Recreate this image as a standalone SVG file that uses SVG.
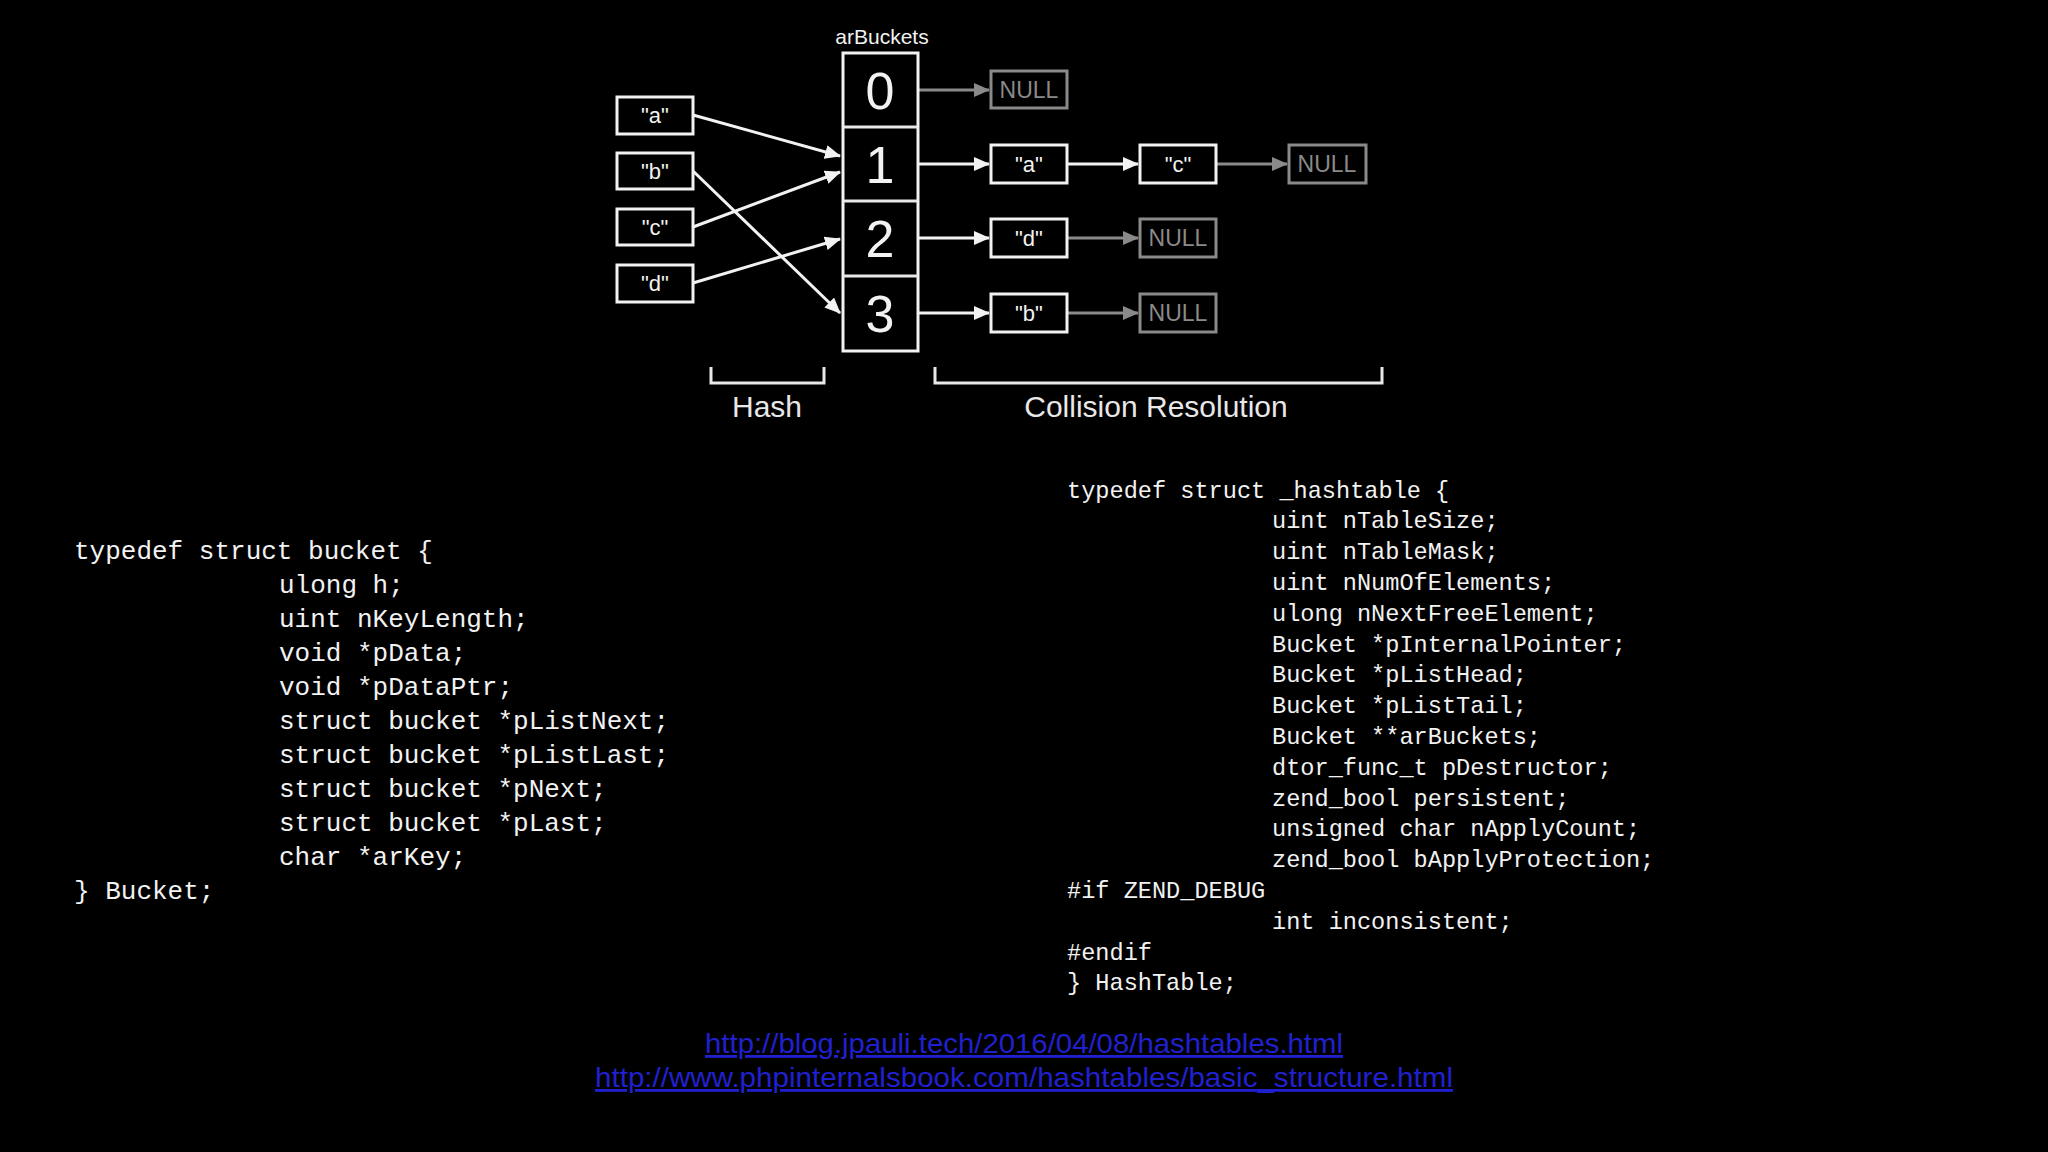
<svg xmlns="http://www.w3.org/2000/svg" width="2048" height="1152" viewBox="0 0 2048 1152">
<defs>
<marker id="aw" markerWidth="16" markerHeight="14" refX="15" refY="7" orient="auto" markerUnits="userSpaceOnUse" viewBox="0 0 16 14"><path d="M0,0 L16,7 L0,14 z" fill="#f2f2f2"/></marker>
<marker id="ag" markerWidth="16" markerHeight="14" refX="15" refY="7" orient="auto" markerUnits="userSpaceOnUse" viewBox="0 0 16 14"><path d="M0,0 L16,7 L0,14 z" fill="#8a8a8a"/></marker>
</defs>
<style>
.bx{fill:#000;stroke:#f2f2f2;stroke-width:3}
.nb{fill:#000;stroke:#8a8a8a;stroke-width:3}
.kt{font-family:"Liberation Sans",Arial,sans-serif;font-size:22px;fill:#f2f2f2;text-anchor:middle}
.nt{font-family:"Liberation Sans",Arial,sans-serif;font-size:23px;fill:#8a8a8a;text-anchor:middle}
.dg{font-family:"Liberation Sans",Arial,sans-serif;font-size:52px;fill:#f2f2f2;text-anchor:middle}
.lb{font-family:"Liberation Sans",Arial,sans-serif;font-size:30px;fill:#e8e8e8;text-anchor:middle}
.w{stroke:#f2f2f2;stroke-width:3;fill:none;marker-end:url(#aw)}
.g{stroke:#8a8a8a;stroke-width:3;fill:none;marker-end:url(#ag)}
.br{stroke:#e8e8e8;stroke-width:3;fill:none}
.c1{font-family:"Liberation Mono",monospace;font-size:26px;fill:#f2f2f2}
.c2{font-family:"Liberation Mono",monospace;font-size:23.6px;fill:#f2f2f2}
.ln{font-family:"Liberation Sans",Arial,sans-serif;font-size:28px;fill:#2020d0;text-anchor:middle;text-decoration:underline}
</style>
<rect width="2048" height="1152" fill="#000"/>
<g id="connectors">
<line class="w" x1="693" y1="115" x2="840" y2="156"/>
<line class="w" x1="693" y1="171" x2="840" y2="313"/>
<line class="w" x1="693" y1="227" x2="840" y2="172"/>
<line class="w" x1="693" y1="283" x2="840" y2="239"/>
<line class="g" x1="918" y1="90" x2="989" y2="90"/>
<line class="w" x1="918" y1="164" x2="989" y2="164"/>
<line class="w" x1="1067" y1="164" x2="1138" y2="164"/>
<line class="g" x1="1216" y1="164" x2="1287" y2="164"/>
<line class="w" x1="918" y1="238" x2="989" y2="238"/>
<line class="g" x1="1067" y1="238" x2="1138" y2="238"/>
<line class="w" x1="918" y1="313" x2="989" y2="313"/>
<line class="g" x1="1067" y1="313" x2="1138" y2="313"/>
</g>
<text class="kt" x="882" y="44" style="font-size:21px">arBuckets</text>
<g id="arBuckets">
<rect class="bx" x="843" y="53" width="75" height="298"/>
<line class="br" x1="843" y1="127" x2="918" y2="127"/>
<line class="br" x1="843" y1="201" x2="918" y2="201"/>
<line class="br" x1="843" y1="276" x2="918" y2="276"/>
<text class="dg" x="880" y="109">0</text>
<text class="dg" x="880" y="183">1</text>
<text class="dg" x="880" y="257">2</text>
<text class="dg" x="880" y="332">3</text>
</g>
<g id="key-a"><rect class="bx" x="617" y="97" width="76" height="37"/><text class="kt" x="655" y="123">"a"</text></g>
<g id="key-b"><rect class="bx" x="617" y="153" width="76" height="36"/><text class="kt" x="655" y="179">"b"</text></g>
<g id="key-c"><rect class="bx" x="617" y="209" width="76" height="36"/><text class="kt" x="655" y="235">"c"</text></g>
<g id="key-d"><rect class="bx" x="617" y="265" width="76" height="37"/><text class="kt" x="655" y="291">"d"</text></g>
<g id="null0"><rect class="nb" x="991" y="71" width="76" height="37"/><text class="nt" x="1029" y="98">NULL</text></g>
<g id="r1a"><rect class="bx" x="991" y="145" width="76" height="38"/><text class="kt" x="1029" y="172">"a"</text></g>
<g id="r1c"><rect class="bx" x="1140" y="145" width="76" height="38"/><text class="kt" x="1178" y="172">"c"</text></g>
<g id="r1n"><rect class="nb" x="1289" y="145" width="77" height="38"/><text class="nt" x="1327" y="172">NULL</text></g>
<g id="r2d"><rect class="bx" x="991" y="219" width="76" height="38"/><text class="kt" x="1029" y="246">"d"</text></g>
<g id="r2n"><rect class="nb" x="1140" y="219" width="76" height="38"/><text class="nt" x="1178" y="246">NULL</text></g>
<g id="r3b"><rect class="bx" x="991" y="294" width="76" height="38"/><text class="kt" x="1029" y="321">"b"</text></g>
<g id="r3n"><rect class="nb" x="1140" y="294" width="76" height="38"/><text class="nt" x="1178" y="321">NULL</text></g>
<g id="hash"><path class="br" d="M711,367 V383 H824 V367"/><text class="lb" x="767" y="417">Hash</text></g>
<g id="collision"><path class="br" d="M935,367 V383 H1382 V367"/><text class="lb" x="1156" y="417">Collision Resolution</text></g>
<g id="bucket-code" class="c1">
<text x="74" y="559">typedef struct bucket {</text>
<text x="279" y="593">ulong h;</text>
<text x="279" y="627">uint nKeyLength;</text>
<text x="279" y="661">void *pData;</text>
<text x="279" y="695">void *pDataPtr;</text>
<text x="279" y="729">struct bucket *pListNext;</text>
<text x="279" y="763">struct bucket *pListLast;</text>
<text x="279" y="797">struct bucket *pNext;</text>
<text x="279" y="831">struct bucket *pLast;</text>
<text x="279" y="865">char *arKey;</text>
<text x="74" y="899">} Bucket;</text>
</g>
<g id="hashtable-code" class="c2">
<text x="1067" y="498">typedef struct _hashtable {</text>
<text x="1272" y="528">uint nTableSize;</text>
<text x="1272" y="559">uint nTableMask;</text>
<text x="1272" y="590">uint nNumOfElements;</text>
<text x="1272" y="621">ulong nNextFreeElement;</text>
<text x="1272" y="652">Bucket *pInternalPointer;</text>
<text x="1272" y="682">Bucket *pListHead;</text>
<text x="1272" y="713">Bucket *pListTail;</text>
<text x="1272" y="744">Bucket **arBuckets;</text>
<text x="1272" y="775">dtor_func_t pDestructor;</text>
<text x="1272" y="806">zend_bool persistent;</text>
<text x="1272" y="836">unsigned char nApplyCount;</text>
<text x="1272" y="867">zend_bool bApplyProtection;</text>
<text x="1067" y="898">#if ZEND_DEBUG</text>
<text x="1272" y="929">int inconsistent;</text>
<text x="1067" y="960">#endif</text>
<text x="1067" y="990">} HashTable;</text>
</g>
<g id="links">
<text class="ln" x="1024" y="1053" textLength="638" lengthAdjust="spacingAndGlyphs">http://blog.jpauli.tech/2016/04/08/hashtables.html</text>
<text class="ln" x="1024" y="1087" textLength="858" lengthAdjust="spacingAndGlyphs">http://www.phpinternalsbook.com/hashtables/basic_structure.html</text>
</g>
</svg>
